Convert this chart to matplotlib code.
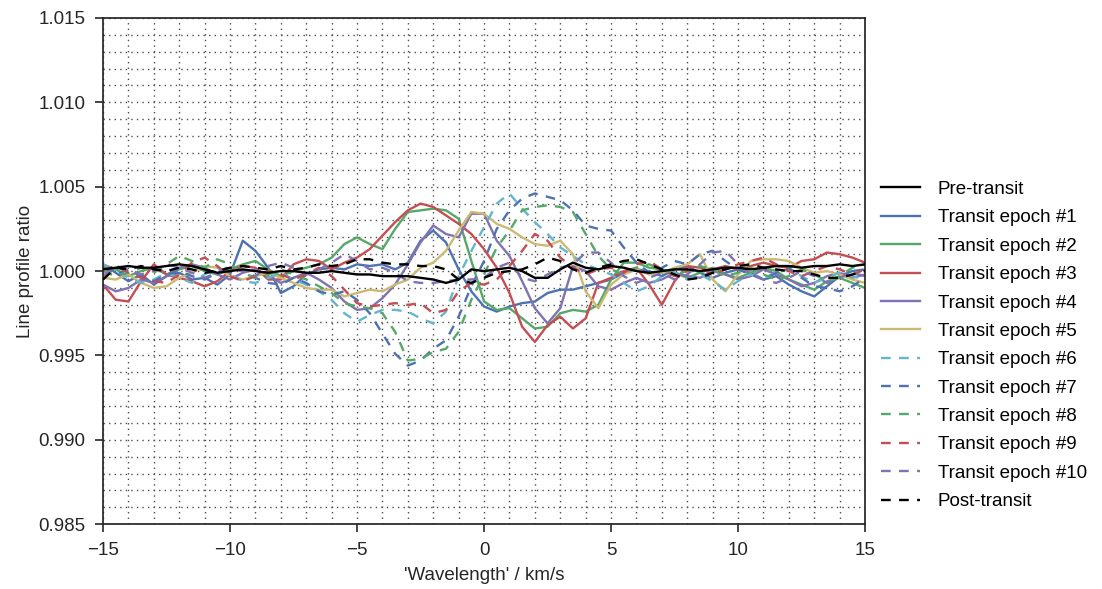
import numpy as np
import matplotlib
matplotlib.use("Agg")
import matplotlib.pyplot as plt
from matplotlib.ticker import MultipleLocator

plt.rcParams['font.family'] = ['Liberation Sans', 'DejaVu Sans']
plt.rcParams['lines.scale_dashes'] = False

# velocity grid, km/s
velocity = np.arange(-15, 15.01, 0.5)

pre_transit = [
    1.0001, 1.0002, 1.0003, 1.0002, 1.0002, 1.0003, 1.0004, 1.0003, 1.0001, 0.9999,
    1.0000, 1.0001, 1.0000, 0.9999, 1.0000, 1.0000, 0.9999, 0.9999, 1.0000, 0.9999,
    0.9998, 0.9998, 0.9997, 0.9997, 0.9997, 0.9996, 0.9995, 0.9993, 0.9995, 1.0001,
    1.0000, 1.0001, 1.0002, 1.0000, 0.9996, 0.9996, 1.0001, 1.0005, 1.0002, 1.0001,
    1.0003, 1.0002, 1.0000, 0.9999, 1.0000, 1.0001, 1.0001, 1.0000, 1.0001, 1.0002,
    1.0002, 1.0001, 1.0002, 1.0003, 1.0003, 1.0002, 1.0003, 1.0003, 1.0004, 1.0003,
    1.0004]

epoch_1 = [
    1.0004, 0.9999, 0.9994, 0.9998, 0.9992, 0.9997, 0.9999, 0.9995, 0.9996, 0.9992,
    0.9998, 1.0018, 1.0012, 1.0002, 0.9987, 0.9991, 0.9998, 1.0001, 1.0002, 1.0001,
    1.0004, 1.0003, 1.0004, 1.0001, 1.0005, 1.0018, 1.0024, 1.0017, 1.0001, 0.9988,
    0.9979, 0.9976, 0.9979, 0.9981, 0.9982, 0.9987, 0.9989, 0.9989, 0.9991, 0.9993,
    0.9995, 0.9999, 1.0001, 1.0000, 0.9997, 1.0001, 1.0003, 0.9999, 0.9996, 0.9999,
    1.0001, 0.9999, 0.9995, 0.9997, 0.9992, 0.9988, 0.9985, 0.9991, 0.9997, 1.0000,
    1.0001]

epoch_2 = [
    1.0003, 1.0001, 0.9997, 1.0000, 1.0002, 0.9998, 1.0001, 1.0003, 1.0000, 0.9998,
    1.0001, 1.0004, 1.0006, 1.0001, 0.9997, 1.0000, 1.0002, 1.0004, 1.0008, 1.0016,
    1.0020, 1.0016, 1.0013, 1.0025, 1.0035, 1.0036, 1.0037, 1.0036, 1.0031, 1.0006,
    0.9982, 0.9977, 0.9978, 0.9972, 0.9966, 0.9967, 0.9975, 0.9977, 0.9976, 0.9980,
    0.9995, 1.0005, 1.0005, 1.0002, 1.0001, 0.9999, 0.9996, 0.9999, 1.0002, 0.9998,
    0.9996, 0.9999, 1.0002, 1.0000, 0.9995, 0.9992, 0.9989, 0.9994, 0.9996, 0.9993,
    0.9990]

epoch_3 = [
    0.9992, 0.9983, 0.9982, 0.9994, 1.0004, 0.9998, 0.9996, 0.9994, 0.9991, 0.9994,
    1.0000, 1.0003, 1.0002, 0.9995, 0.9995, 1.0004, 1.0007, 1.0006, 1.0001, 1.0005,
    1.0008, 1.0013, 1.0021, 1.0029, 1.0036, 1.0040, 1.0038, 1.0033, 1.0028, 1.0022,
    1.0013, 1.0002, 0.9987, 0.9967, 0.9958, 0.9968, 0.9973, 0.9966, 0.9972, 0.9993,
    0.9996, 1.0000, 1.0002, 0.9992, 0.9980, 0.9994, 1.0003, 1.0002, 1.0001, 1.0003,
    1.0001, 1.0003, 1.0005, 1.0003, 1.0002, 1.0006, 1.0007, 1.0011, 1.0010, 1.0008,
    1.0005]

epoch_4 = [
    0.9992, 0.9988, 0.9990, 0.9995, 0.9993, 0.9997, 1.0002, 1.0004, 1.0002, 0.9998,
    0.9995, 0.9999, 1.0001, 0.9997, 0.9993, 0.9996, 0.9999, 0.9995, 0.9990, 0.9982,
    0.9977, 0.9978, 0.9984, 0.9992, 1.0004, 1.0017, 1.0027, 1.0022, 1.0020, 1.0034,
    1.0034, 1.0018, 1.0009, 0.9994, 0.9978, 0.9969, 0.9978, 1.0003, 1.0000, 0.9991,
    0.9989, 0.9993, 0.9996, 0.9993, 0.9995, 0.9999, 0.9997, 0.9996, 1.0000, 0.9998,
    0.9995, 0.9997, 1.0001, 0.9998, 0.9995, 0.9991, 0.9993, 0.9997, 0.9999, 0.9996,
    0.9998]

epoch_5 = [
    0.9996, 0.9995, 0.9998, 0.9993, 0.9990, 0.9991, 0.9996, 0.9999, 1.0003, 1.0002,
    0.9997, 0.9995, 0.9997, 0.9999, 0.9996, 0.9993, 0.9990, 0.9989, 0.9989, 0.9985,
    0.9987, 0.9989, 0.9988, 0.9992, 0.9995, 1.0002, 1.0005, 1.0012, 1.0024, 1.0035,
    1.0034, 1.0028, 1.0025, 1.0020, 1.0016, 1.0015, 1.0018, 1.0010, 0.9988, 0.9978,
    0.9992, 0.9998, 1.0001, 0.9998, 0.9999, 1.0002, 1.0004, 1.0010, 0.9995, 0.9988,
    0.9998, 1.0006, 1.0007, 1.0007, 1.0006, 1.0002, 0.9999, 1.0000, 0.9998, 0.9995,
    0.9993]

epoch_6 = [
    1.0004, 1.0001, 0.9996, 0.9993, 0.9995, 0.9999, 0.9996, 0.9993, 0.9998, 1.0002,
    0.9998, 0.9994, 0.9993, 0.9996, 0.9999, 0.9995, 0.9992, 0.9988, 0.9983, 0.9975,
    0.9970, 0.9974, 0.9977, 0.9977, 0.9976, 0.9972, 0.9969, 0.9976, 0.9997, 1.0012,
    1.0026, 1.0040, 1.0046, 1.0037, 1.0029, 1.0022, 1.0014, 1.0009, 1.0004, 1.0001,
    0.9998, 0.9993, 0.9988, 0.9991, 0.9997, 0.9999, 0.9995, 0.9998, 0.9994, 0.9989,
    0.9994, 0.9998, 0.9996, 0.9999, 1.0001, 0.9997, 0.9993, 0.9996, 0.9999, 0.9997,
    0.9995]

epoch_7 = [
    1.0002, 0.9998, 1.0001, 0.9997, 0.9994, 0.9998, 1.0000, 0.9997, 0.9995, 0.9999,
    1.0003, 1.0000, 0.9996, 0.9993, 0.9992, 0.9996, 0.9993, 0.9988, 0.9986, 0.9988,
    0.9983, 0.9975, 0.9963, 0.9951, 0.9944, 0.9947, 0.9954, 0.9959, 0.9973, 0.9991,
    1.0006, 1.0025, 1.0036, 1.0043, 1.0046, 1.0044, 1.0042, 1.0036, 1.0027, 1.0025,
    1.0024, 1.0014, 1.0005, 0.9999, 1.0002, 1.0006, 1.0004, 1.0010, 1.0012, 1.0006,
    1.0001, 0.9998, 0.9995, 0.9999, 1.0002, 0.9996, 0.9991, 0.9990, 0.9988, 0.9991,
    0.9996]

epoch_8 = [
    1.0000, 0.9997, 0.9999, 1.0002, 0.9999, 1.0004, 1.0009, 1.0006, 1.0002, 1.0007,
    1.0004, 0.9999, 0.9996, 0.9998, 1.0001, 0.9998, 0.9995, 0.9991, 0.9987, 0.9981,
    0.9979, 0.9978, 0.9975, 0.9964, 0.9947, 0.9948, 0.9952, 0.9954, 0.9964, 0.9983,
    0.9998, 1.0014, 1.0024, 1.0036, 1.0038, 1.0039, 1.0038, 1.0035, 1.0022, 1.0009,
    1.0001, 0.9998, 1.0002, 1.0004, 1.0001, 0.9998, 1.0000, 1.0003, 1.0001, 0.9997,
    0.9999, 1.0002, 0.9998, 0.9995, 0.9997, 1.0001, 0.9998, 0.9994, 0.9997, 1.0002,
    1.0004]

epoch_9 = [
    1.0001, 1.0003, 0.9999, 0.9996, 0.9994, 0.9993, 0.9998, 1.0005, 1.0008, 1.0003,
    0.9997, 0.9994, 0.9997, 1.0000, 0.9998, 0.9995, 0.9998, 1.0002, 0.9997, 0.9989,
    0.9981, 0.9979, 0.9980, 0.9981, 0.9980, 0.9981, 0.9975, 0.9977, 0.9988, 0.9993,
    0.9992, 0.9995, 1.0003, 1.0012, 1.0022, 1.0018, 1.0008, 1.0002, 0.9998, 1.0001,
    1.0002, 0.9999, 1.0004, 1.0006, 1.0001, 0.9997, 1.0000, 1.0002, 0.9998, 1.0001,
    1.0004, 1.0006, 1.0008, 1.0004, 1.0000, 0.9997, 1.0000, 1.0003, 1.0001, 0.9998,
    1.0001]

epoch_10 = [
    0.9997, 1.0003, 1.0001, 0.9998, 1.0000, 1.0004, 1.0002, 0.9999, 0.9996, 0.9999,
    1.0002, 1.0000, 0.9997, 1.0003, 1.0005, 1.0002, 0.9998, 1.0001, 1.0005, 1.0010,
    1.0006, 1.0001, 1.0002, 0.9999, 0.9994, 0.9993, 0.9993, 0.9994, 0.9995, 0.9995,
    0.9996, 1.0002, 1.0005, 0.9996, 0.9994, 0.9998, 1.0002, 1.0004, 1.0011, 1.0011,
    1.0005, 0.9997, 0.9993, 0.9996, 0.9999, 0.9995, 0.9998, 1.0004, 1.0011, 1.0012,
    1.0004, 0.9998, 0.9995, 0.9993, 0.9996, 1.0000, 0.9997, 0.9993, 0.9996, 0.9999,
    0.9997]

post_transit = [
    0.9995, 1.0002, 1.0001, 1.0003, 1.0001, 1.0000, 1.0002, 1.0001, 0.9999, 1.0000,
    1.0002, 1.0003, 1.0002, 1.0001, 1.0003, 1.0001, 1.0002, 1.0004, 1.0003, 1.0004,
    1.0007, 1.0007, 1.0005, 1.0004, 1.0004, 1.0003, 1.0003, 1.0001, 0.9995, 0.9993,
    0.9996, 0.9999, 1.0000, 1.0001, 1.0004, 1.0008, 1.0006, 1.0001, 0.9999, 1.0002,
    1.0004, 1.0006, 1.0007, 1.0004, 1.0001, 0.9998, 0.9995, 0.9996, 0.9999, 1.0001,
    1.0003, 1.0004, 1.0002, 1.0001, 1.0000, 1.0000, 0.9998, 0.9996, 0.9996, 0.9998,
    1.0000]

blue, green, red, purple, gold, cyan = ("#4C72B0", "#55A868", "#C44E52",
                                        "#8172B2", "#CCB974", "#64B5CD")

series = [
    ("Pre-transit", pre_transit, "black", "-"),
    ("Transit epoch #1", epoch_1, blue, "-"),
    ("Transit epoch #2", epoch_2, green, "-"),
    ("Transit epoch #3", epoch_3, red, "-"),
    ("Transit epoch #4", epoch_4, purple, "-"),
    ("Transit epoch #5", epoch_5, gold, "-"),
    ("Transit epoch #6", epoch_6, cyan, "--"),
    ("Transit epoch #7", epoch_7, blue, "--"),
    ("Transit epoch #8", epoch_8, green, "--"),
    ("Transit epoch #9", epoch_9, red, "--"),
    ("Transit epoch #10", epoch_10, purple, "--"),
    ("Post-transit", post_transit, "black", "--"),
]

fig = plt.figure(figsize=(11.02, 5.89), dpi=100)
ax = fig.add_axes([0.0935, 0.110, 0.6915, 0.8595])

for label, vals, col, ls in series:
    z = 3 if col == "black" else 2
    line, = ax.plot(velocity, vals, color=col, lw=1.7, label=label, zorder=z)
    if ls == "--":
        line.set_dashes((7, 6))

ax.set_xlim(-15, 15)
ax.set_ylim(0.985, 1.015)
ax.xaxis.set_major_locator(MultipleLocator(5))
ax.xaxis.set_minor_locator(MultipleLocator(1))
ax.yaxis.set_major_locator(MultipleLocator(0.005))
ax.yaxis.set_minor_locator(MultipleLocator(0.001))
ax.yaxis.set_major_formatter(plt.FormatStrFormatter('%.3f'))

ax.grid(True, which='both', linestyle=(0, (1, 3)), color='0.3', linewidth=1.0)
ax.set_axisbelow(True)
ax.tick_params(which='major', direction='out', length=6, width=1.2, pad=6.5,
               color='.15', labelsize=13.5, labelcolor='.15', top=False, right=False)
ax.tick_params(which='minor', length=0)
for sp in ax.spines.values():
    sp.set_color('.15')
    sp.set_linewidth(1.25)

ax.set_xlabel("'Wavelength' / km/s", fontsize=13.5, color='.15', labelpad=6)
ax.set_ylabel("Line profile ratio", fontsize=13.5, color='.15', labelpad=3)

ax.legend(loc='center left', bbox_to_anchor=(0.9985, 0.353), frameon=False,
          fontsize=13.5, handlelength=2.1, handletextpad=0.95, labelspacing=0.6)

fig.savefig("out.png", dpi=100)
